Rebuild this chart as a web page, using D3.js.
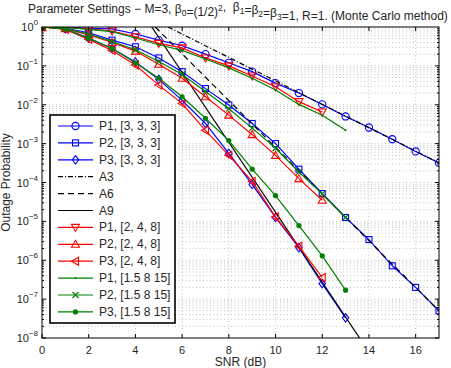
<!DOCTYPE html>
<html>
<head>
<meta charset="utf-8">
<script src="https://cdn.jsdelivr.net/npm/d3@7"></script>
<style>
  html, body { margin: 0; padding: 0; background: #fff; }
  svg { display: block; font-family: "Liberation Sans", Arial, sans-serif; }
</style>
</head>
<body>
<div id="chart"></div>
<script>
// ---- data (SNR in dB, outage probability) ----
const snrA = d3.range(0, 18);          // 0..17
const snrB = d3.range(0, 13);          // 0..12
const snrC = d3.range(0, 14);          // 0..13

const p1_333 = [1, 0.99, 0.93, 0.89, 0.66, 0.46, 0.33, 0.2, 0.12, 0.071, 0.036, 0.02, 0.0102, 0.005, 0.0026, 0.0013, 6.3e-4, 3.2e-4];
const p2_333 = [1, 0.93, 0.71, 0.46, 0.31, 0.16, 0.071, 0.026, 0.0098, 0.0033, 0.001, 2.2e-4, 5.2e-5, 1.26e-5, 3.4e-6, 7.2e-7, 2e-7, 5e-8];
const p3_333 = [1, 0.89, 0.52, 0.28, 0.126, 0.045, 0.013, 0.0033, 5.6e-4, 8.9e-5, 1.26e-5, 2.1e-6, 2.5e-7, 3.3e-8];

const p1_248 = [1, 0.98, 0.89, 0.79, 0.56, 0.38, 0.29, 0.16, 0.1, 0.055, 0.029, 0.012, 0.0065];
const p2_248 = [1, 0.91, 0.63, 0.4, 0.24, 0.11, 0.048, 0.016, 0.0054, 0.0017, 5e-4, 1.26e-4, 3.5e-5];
const p3_248 = [1, 0.87, 0.48, 0.25, 0.105, 0.032, 0.0107, 0.0022, 5e-4, 1.07e-4, 1.3e-5, 2.3e-6, 3.6e-7];

const p1_15815 = [1, 0.98, 0.87, 0.76, 0.52, 0.35, 0.25, 0.15, 0.089, 0.048, 0.024, 0.0102, 0.0054, 0.0022];
const p2_15815 = [1, 0.91, 0.66, 0.42, 0.26, 0.13, 0.06, 0.022, 0.0079, 0.0025, 7.6e-4, 1.86e-4, 5.1e-5, 1.26e-5];
const p3_15815 = [1, 0.89, 0.51, 0.28, 0.12, 0.048, 0.016, 0.0045, 0.0012, 2.2e-4, 4.6e-5, 7.8e-6, 1.3e-6, 1.7e-7];

// asymptotes: end points of straight lines
const a3 = {snr: [5.4, 17], p: [1, 3.2e-4]};
const a6 = {snr: [4.85, 17], p: [1, 5e-8]};
const a9 = {snr: [4.7, 13.6], p: [1, 1e-8]};

const xTicks = [0, 2, 4, 6, 8, 10, 12, 14, 16];
const yExps = [0, -1, -2, -3, -4, -5, -6, -7, -8];

const series = [
  {name: 'P1, [3, 3, 3]', x: snrA, y: p1_333, color: '#0000ff', marker: 'circle'},
  {name: 'P2, [3, 3, 3]', x: snrA, y: p2_333, color: '#0000ff', marker: 'square'},
  {name: 'P3, [3, 3, 3]', x: snrC, y: p3_333, color: '#0000ff', marker: 'diamond'},
  {name: 'A3', x: a3.snr, y: a3.p, color: '#000', dash: '5,2,1,2'},
  {name: 'A6', x: a6.snr, y: a6.p, color: '#000', dash: '6,4'},
  {name: 'A9', x: a9.snr, y: a9.p, color: '#000'},
  {name: 'P1, [2, 4, 8]', x: snrB, y: p1_248, color: '#ff0000', marker: 'tdown'},
  {name: 'P2, [2, 4, 8]', x: snrB, y: p2_248, color: '#ff0000', marker: 'tup'},
  {name: 'P3, [2, 4, 8]', x: snrB, y: p3_248, color: '#ff0000', marker: 'tleft'},
  {name: 'P1, [1.5 8 15]', x: snrC, y: p1_15815, color: '#008000', marker: 'point'},
  {name: 'P2, [1.5 8 15]', x: snrC, y: p2_15815, color: '#008000', marker: 'cross'},
  {name: 'P3, [1.5 8 15]', x: snrC, y: p3_15815, color: '#008000', marker: 'dot'}
];

const W = 451, H = 368;
const margin = {left: 42, right: 12, top: 27, bottom: 30};

const svg = d3.select('#chart').append('svg')
  .attr('width', W).attr('height', H);

const x = d3.scaleLinear().domain([0, 17]).range([margin.left, W - margin.right]);
const y = d3.scaleLog().domain([1e-8, 1]).range([H - margin.bottom, margin.top]);

const x0 = x.range()[0], x1 = x.range()[1], y0 = y.range()[1], y1 = y.range()[0];

// grid (dotted, MATLAB style)
const grid = svg.append('g').attr('stroke', '#9a9a9a').attr('stroke-width', 0.6)
  .attr('stroke-dasharray', '1,2.5').attr('fill', 'none');
xTicks.forEach(t => {
  if (t > 0) grid.append('line').attr('x1', x(t)).attr('x2', x(t)).attr('y1', y0).attr('y2', y1);
});
const minor = [];
for (let e = -8; e < 0; e++) for (let m = 1; m <= 9; m++) minor.push(m * Math.pow(10, e));
minor.forEach(v => {
  if (v < 1 && v > 1e-8) grid.append('line').attr('x1', x0).attr('x2', x1).attr('y1', y(v)).attr('y2', y(v));
});

// clip to plot area
svg.append('clipPath').attr('id', 'clip').append('rect')
  .attr('x', x0).attr('y', y0).attr('width', x1 - x0).attr('height', y1 - y0);
const plot = svg.append('g').attr('clip-path', 'url(#clip)');

const line = d3.line().x(d => x(d[0])).y(d => y(d[1]));

function marker(g, type, color, cx, cy) {
  const s = 3.6;
  if (type === 'circle') {
    g.append('circle').attr('cx', cx).attr('cy', cy).attr('r', s).attr('fill', 'none').attr('stroke', color);
  } else if (type === 'square') {
    g.append('rect').attr('x', cx - 3).attr('y', cy - 3).attr('width', 6).attr('height', 6).attr('fill', 'none').attr('stroke', color);
  } else if (type === 'diamond') {
    g.append('path').attr('d', `M${cx},${cy - 4.2}L${cx + 3.2},${cy}L${cx},${cy + 4.2}L${cx - 3.2},${cy}Z`).attr('fill', 'none').attr('stroke', color);
  } else if (type === 'tdown') {
    g.append('path').attr('d', `M${cx - 4},${cy - 3}L${cx + 4},${cy - 3}L${cx},${cy + 4}Z`).attr('fill', 'none').attr('stroke', color);
  } else if (type === 'tup') {
    g.append('path').attr('d', `M${cx - 4},${cy + 3}L${cx + 4},${cy + 3}L${cx},${cy - 4}Z`).attr('fill', 'none').attr('stroke', color);
  } else if (type === 'tleft') {
    g.append('path').attr('d', `M${cx + 3},${cy - 4}L${cx + 3},${cy + 4}L${cx - 4},${cy}Z`).attr('fill', 'none').attr('stroke', color);
  } else if (type === 'point') {
    g.append('circle').attr('cx', cx).attr('cy', cy).attr('r', 1).attr('fill', color);
  } else if (type === 'cross') {
    g.append('path').attr('d', `M${cx - 3},${cy - 3}L${cx + 3},${cy + 3}M${cx - 3},${cy + 3}L${cx + 3},${cy - 3}`).attr('stroke', color);
  } else if (type === 'dot') {
    g.append('circle').attr('cx', cx).attr('cy', cy).attr('r', 2.6).attr('fill', color);
  }
}

series.forEach(s => {
  const pts = s.x.map((v, i) => [v, s.y[i]]);
  plot.append('path').datum(pts).attr('d', line)
    .attr('fill', 'none').attr('stroke', s.color).attr('stroke-width', 1.2)
    .attr('stroke-dasharray', s.dash || null);
  if (s.marker) {
    const g = plot.append('g').attr('stroke-width', 1.1);
    pts.forEach(p => marker(g, s.marker, s.color, x(p[0]), y(p[1])));
  }
});

// frame + ticks
svg.append('rect').attr('x', x0).attr('y', y0).attr('width', x1 - x0).attr('height', y1 - y0)
  .attr('fill', 'none').attr('stroke', '#000').attr('stroke-width', 1);
const tk = svg.append('g').attr('stroke', '#000').attr('stroke-width', 1);
xTicks.forEach(t => {
  tk.append('line').attr('x1', x(t)).attr('x2', x(t)).attr('y1', y1).attr('y2', y1 - 4);
  tk.append('line').attr('x1', x(t)).attr('x2', x(t)).attr('y1', y0).attr('y2', y0 + 4);
});
minor.forEach(v => {
  const len = Math.abs(Math.log10(v) - Math.round(Math.log10(v))) < 1e-9 ? 4 : 2;
  tk.append('line').attr('x1', x0).attr('x2', x0 + len).attr('y1', y(v)).attr('y2', y(v));
  tk.append('line').attr('x1', x1).attr('x2', x1 - len).attr('y1', y(v)).attr('y2', y(v));
});

// tick labels
const lab = svg.append('g').attr('fill', '#262626').attr('font-size', 11);
xTicks.forEach(t => {
  lab.append('text').attr('x', x(t)).attr('y', y1 + 16).attr('text-anchor', 'middle').text(t);
});
yExps.forEach(e => {
  const t = lab.append('text').attr('x', 38).attr('y', y(Math.pow(10, e)) + 4).attr('text-anchor', 'end');
  t.append('tspan').text('10');
  t.append('tspan').attr('dy', -6).attr('font-size', 8).text(e === 0 ? '0' : '\u2212' + (-e));
});

// axis titles
lab.append('text').attr('transform', `translate(10,${(y0 + y1) / 2}) rotate(-90)`)
  .attr('text-anchor', 'middle').attr('font-size', 12).text('Outage Probability');
lab.append('text').attr('x', (x0 + x1) / 2).attr('y', 366).attr('text-anchor', 'middle')
  .attr('font-size', 12).text('SNR (dB)');

// title (runs past the right edge, as in the original)
const title = svg.append('text').attr('x', 28).attr('y', 13).attr('text-anchor', 'start')
  .attr('font-size', 12).attr('fill', '#262626').style('white-space', 'pre');
const sub = (s, up) => {
  title.append('tspan').attr('dy', up ? -5 : 3).attr('font-size', 8.5).text(s);
  title.append('tspan').attr('dy', up ? 5 : -3).text('');
};
title.append('tspan').text('Parameter Settings \u2212 M=3, \u03b2');
sub('0', false);
title.append('tspan').text('=(1/2)');
sub('2', true);
title.append('tspan').text(',  \u03b2');
sub('1', false);
title.append('tspan').text('=\u03b2');
sub('2', false);
title.append('tspan').text('=\u03b2');
sub('3', false);
title.append('tspan').text('=1, R=1. (Monte Carlo method)');

// legend
const lg = svg.append('g');
const lx = 50, ly = 115, lw = 125, lh = 208, step = 16.9;
lg.append('rect').attr('x', lx).attr('y', ly).attr('width', lw).attr('height', lh)
  .attr('fill', '#fff').attr('stroke', '#000').attr('stroke-width', 1.6);
series.forEach((s, i) => {
  const cy = ly + 11 + i * step;
  lg.append('line').attr('x1', 58).attr('x2', 93).attr('y1', cy).attr('y2', cy)
    .attr('stroke', s.color).attr('stroke-width', 1.2).attr('stroke-dasharray', s.dash || null);
  if (s.marker) {
    const g = lg.append('g').attr('stroke-width', 1.1);
    marker(g, s.marker, s.color, 75.5, cy);
  }
  lg.append('text').attr('x', 99).attr('y', cy + 4).attr('font-size', 12).attr('fill', '#262626').text(s.name);
});
</script>
</body>
</html>
